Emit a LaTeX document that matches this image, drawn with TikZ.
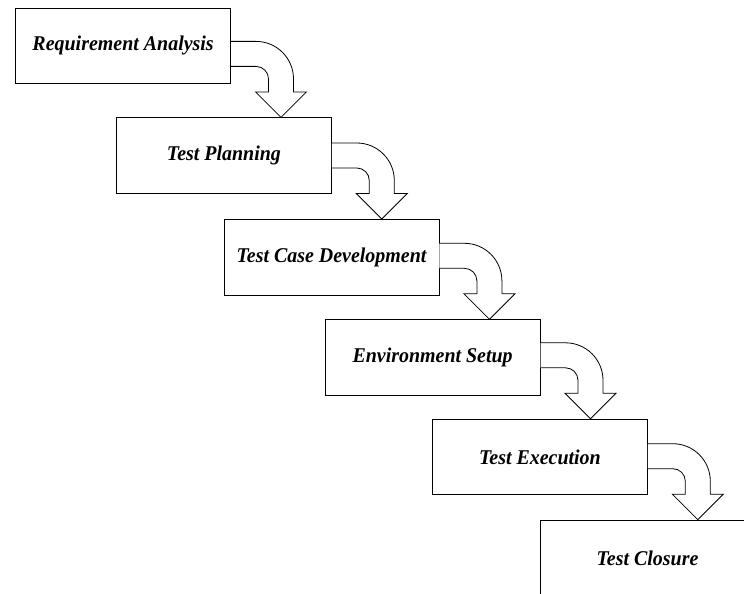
\documentclass[tikz,border=0pt]{standalone}
\usepackage{fontspec}
\setmainfont{Liberation Serif}
\newfontfamily\boxfont{Liberation Serif}[FakeStretch=0.95]
\usetikzlibrary{calc}
\tikzset{
  stagebox/.style={draw=black, line width=0.8pt, fill=white, anchor=north west,
    minimum width=215pt, minimum height=75.5pt, inner sep=0pt,
    font=\boxfont\fontsize{21}{25}\selectfont\bfseries\itshape},
  bentarrow/.style={draw=black, line width=0.8pt, fill=white, line join=miter}
}
\newcommand{\bentconn}[2]{%
  \begin{scope}[shift={(#1.east |- #2.north)}]
    \path[bentarrow] (0,-76) -- (25,-76)
      .. controls (45.7,-76) and (62.5,-59.2) .. (62.5,-38.5)
      -- (62.5,-25.5) -- (75.5,-25.5) -- (50,0) -- (24.5,-25.5) -- (37.5,-25.5)
      -- (37.5,-38.5)
      .. controls (37.5,-45.4) and (31.9,-51) .. (25,-51)
      -- (0,-51);
  \end{scope}}
\begin{document}
\begin{tikzpicture}[x=1pt,y=-1pt]
  \clip (0,0) rectangle (744,594);
  \fill[white] (0,0) rectangle (744,594);
  \node[stagebox] (b1) at (15.2,7.6) {Requirement Analysis};
  \node[stagebox] (b2) at (116,117.4) {Test Planning};
  \node[stagebox] (b3) at (223.6,219) {Test Case Development};
  \node[stagebox] (b4) at (324.7,319.3) {Environment Setup};
  \node[stagebox] (b5) at (432,418.8) {Test Execution};
  \node[stagebox] (b6) at (539.6,519.7) {Test Closure};
  \bentconn{b1}{b2}
  \bentconn{b2}{b3}
  \bentconn{b3}{b4}
  \bentconn{b4}{b5}
  \bentconn{b5}{b6}
\end{tikzpicture}
\end{document}
